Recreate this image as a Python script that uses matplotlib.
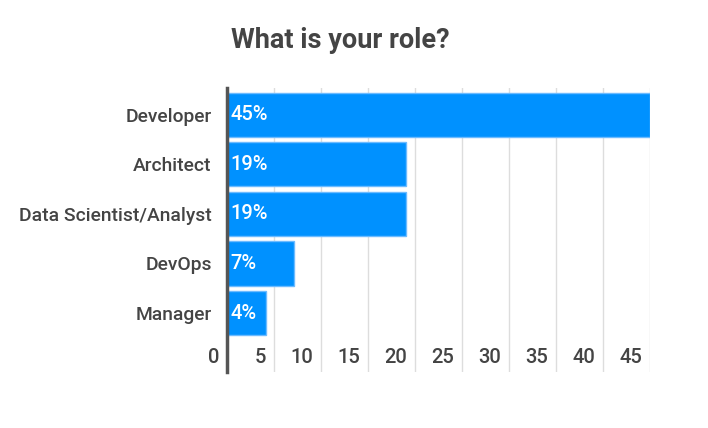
import matplotlib
matplotlib.use("Agg")
import matplotlib.pyplot as plt

categories = ["Developer", "Architect", "Data Scientist/Analyst", "DevOps", "Manager"]
values = [45, 19, 19, 7.1, 4.1]
labels = ["45%", "19%", "19%", "7%", "4%"]
xticks = [0, 5, 10, 15, 20, 25, 30, 35, 40, 45]

plt.rcParams['font.family'] = ['Roboto', 'DejaVu Sans']

W, H = 708, 428
fig = plt.figure(figsize=(W / 100, H / 100), dpi=100)
ax = fig.add_axes([227 / W, (H - 372) / H, (650 - 227) / W, (372 - 88) / H])

ypos = list(range(len(categories)))
ax.barh(ypos, values, height=0.89, color='#0091FF', edgecolor='#6DBBFF', linewidth=1, zorder=3)

ax.set_xlim(0, 45)
ax.set_ylim(5.19, -0.54)

for x in xticks[1:]:
    ax.axvline(x, color='#DDDDDD', linewidth=1, zorder=1)

for s in ['top', 'right', 'bottom']:
    ax.spines[s].set_visible(False)
ax.spines['left'].set_color('#555555')
ax.spines['left'].set_linewidth(2.5)
ax.spines['left'].set_zorder(5)

ax.set_xticks([])
ax.set_yticks(ypos)
ax.set_yticklabels(categories, fontsize=13.9, color='#444444', fontweight='medium')
ax.tick_params(axis='y', length=0, pad=11)

for x in xticks:
    ax.text(x - 0.85, 4.89, str(x), ha='right', va='center', fontsize=14.5,
            color='#444444', fontweight='medium')

for y, v, l in zip(ypos, values, labels):
    ax.text(0.4, y, l, ha='left', va='center', fontsize=14.5, color='white',
            fontweight='medium', zorder=6)

fig.text(340 / W, 1 - 40 / H, "What is your role?", ha='center', va='center',
         fontsize=19.5, fontweight='bold', color='#444444')

fig.savefig("out.png", dpi=100, facecolor='white')
